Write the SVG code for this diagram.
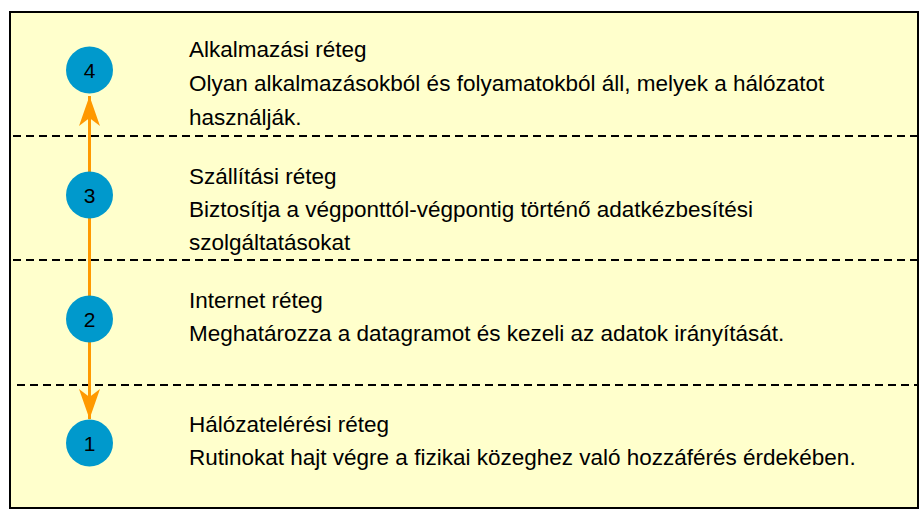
<svg xmlns="http://www.w3.org/2000/svg" width="921" height="511" viewBox="0 0 921 511">
<style>
.t{font-family:"Liberation Sans",Arial,sans-serif;font-size:22.5px;fill:#000}
.n{font-family:"Liberation Sans",Arial,sans-serif;font-size:21px;fill:#000;text-anchor:middle}
.c{fill:#0099cc}
.d{stroke:#000;stroke-width:2;stroke-dasharray:8 5;fill:none}
</style>
<defs>
<marker id="ah" viewBox="0 0 30 22" refX="30" refY="11" markerWidth="30" markerHeight="22" markerUnits="userSpaceOnUse" orient="auto-start-reverse">
<path d="M0,0.5 L30,11 L0,21.5 L8,11 Z" fill="#ff9900"/>
</marker>
</defs>
<g id="frame">
<rect x="10" y="12" width="908" height="496" fill="#ffffcc" stroke="#000" stroke-width="2"/>
<line class="d" x1="13" y1="136" x2="918" y2="136"/>
<line class="d" x1="13" y1="260" x2="918" y2="260"/>
<line class="d" x1="17" y1="385" x2="918" y2="385"/>
</g>
<g id="connectors">
<line x1="89.5" y1="96" x2="89.5" y2="419" stroke="#ff9900" stroke-width="3" marker-start="url(#ah)" marker-end="url(#ah)"/>
</g>
<g id="node4">
<circle class="c" cx="89.5" cy="70" r="23.5"/>
<text class="n" x="89.5" y="77.5">4</text>
<text class="t" x="189" y="57">Alkalmazási réteg</text>
<text class="t" x="189" y="91">Olyan alkalmazásokból és folyamatokból áll, melyek a hálózatot</text>
<text class="t" x="189" y="125">használják.</text>
</g>
<g id="node3">
<circle class="c" cx="89.5" cy="195" r="23.5"/>
<text class="n" x="89.5" y="202.5">3</text>
<text class="t" x="189" y="184">Szállítási réteg</text>
<text class="t" x="189" y="217">Biztosítja a végponttól-végpontig történő adatkézbesítési</text>
<text class="t" x="189" y="250">szolgáltatásokat</text>
</g>
<g id="node2">
<circle class="c" cx="89.5" cy="319" r="23.5"/>
<text class="n" x="89.5" y="326.5">2</text>
<text class="t" x="189" y="308">Internet réteg</text>
<text class="t" x="189" y="341">Meghatározza a datagramot és kezeli az adatok irányítását.</text>
</g>
<g id="node1">
<circle class="c" cx="89.5" cy="443" r="23.5"/>
<text class="n" x="89.5" y="450.5">1</text>
<text class="t" x="189" y="432">Hálózatelérési réteg</text>
<text class="t" x="189" y="465">Rutinokat hajt végre a fizikai közeghez való hozzáférés érdekében.</text>
</g>
</svg>
